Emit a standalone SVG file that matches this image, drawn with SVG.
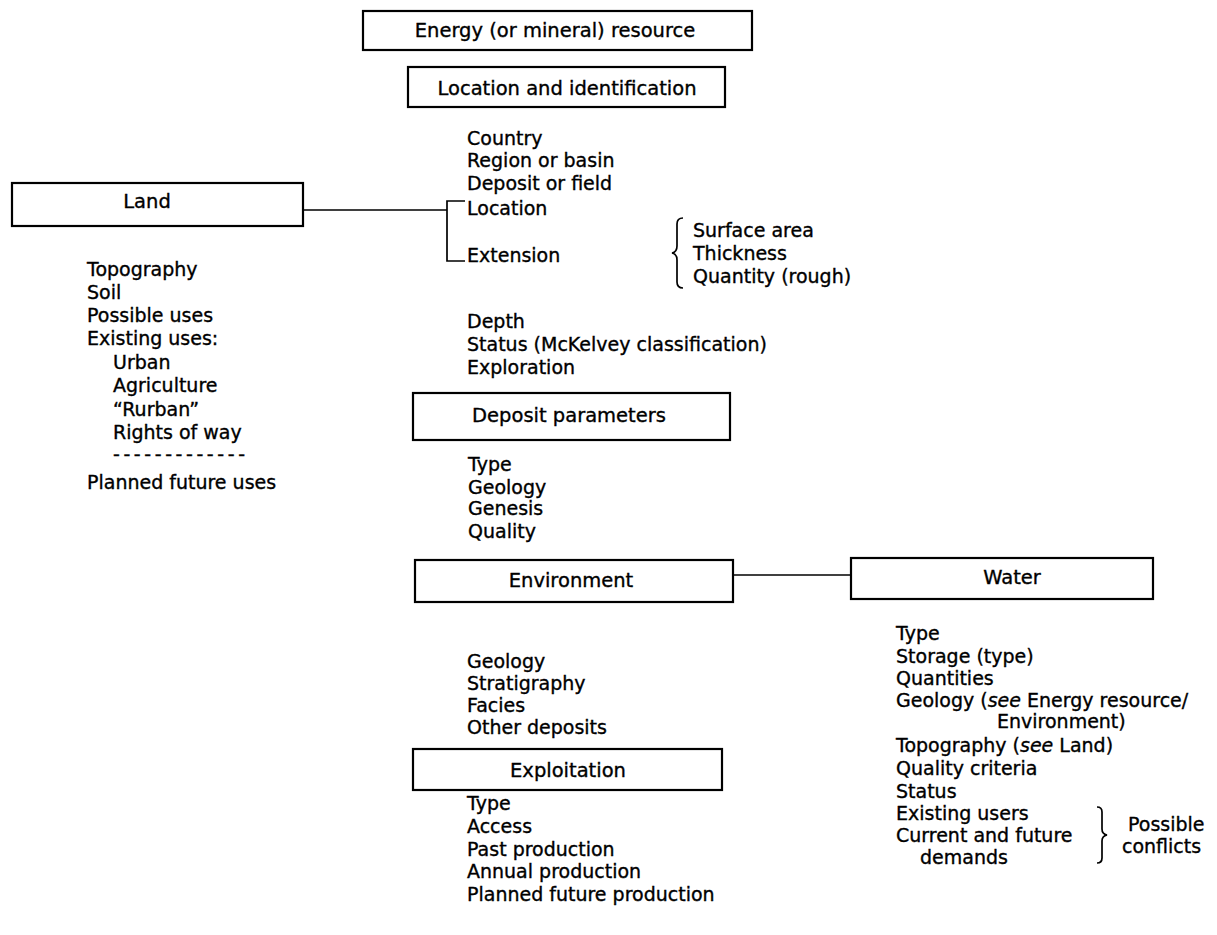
<svg xmlns="http://www.w3.org/2000/svg" width="1217" height="935" viewBox="0 0 1217 935">
<style>
.box{fill:#fff;stroke:#000;stroke-width:2.2}
.t{font-family:"DejaVu Sans","Liberation Sans",sans-serif;font-size:19px;fill:#000;stroke:#000;stroke-width:0.35}
.bt{font-family:"DejaVu Sans","Liberation Sans",sans-serif;font-size:19.5px;fill:#000;stroke:#000;stroke-width:0.35;text-anchor:middle}
.ln{fill:none;stroke:#000;stroke-width:1.7}
</style>
<rect width="1217" height="935" fill="#fff"/>
<g id="connectors">
<path class="ln" d="M303,210 H447 M465,201 H447 V261 H465"/>
<path class="ln" d="M733,575 H851"/>
</g>
<g id="energy"><rect class="box" x="363" y="11" width="389" height="39"/><text class="bt" x="555" y="37">Energy (or mineral) resource</text></g>
<g id="location"><rect class="box" x="408" y="67" width="317" height="40"/><text class="bt" x="567" y="95">Location and identification</text></g>
<g id="location-list">
<text class="t" x="467" y="145">Country</text>
<text class="t" x="467" y="167">Region or basin</text>
<text class="t" x="467" y="190">Deposit or field</text>
<text class="t" x="467" y="215">Location</text>
<text class="t" x="467" y="262">Extension</text>
<text class="t" x="467" y="328">Depth</text>
<text class="t" x="467" y="351">Status (McKelvey classification)</text>
<text class="t" x="467" y="374">Exploration</text>
</g>
<g id="extension-brace">
<path class="ln" d="M683,218 q-6,0 -6,6 v22 q0,6 -5,7 q5,1 5,7 v22 q0,6 6,6"/>
<text class="t" x="693" y="237">Surface area</text>
<text class="t" x="693" y="260">Thickness</text>
<text class="t" x="693" y="283">Quantity (rough)</text>
</g>
<g id="land"><rect class="box" x="12" y="183" width="291" height="43"/><text class="bt" x="147" y="208">Land</text></g>
<g id="land-list">
<text class="t" x="87" y="276">Topography</text>
<text class="t" x="87" y="299">Soil</text>
<text class="t" x="87" y="322">Possible uses</text>
<text class="t" x="87" y="345">Existing uses:</text>
<text class="t" x="113" y="369">Urban</text>
<text class="t" x="113" y="392">Agriculture</text>
<text class="t" x="113" y="416">“Rurban”</text>
<text class="t" x="113" y="439">Rights of way</text>
<text class="t" x="113" y="461" textLength="132" lengthAdjust="spacing">- - - - - - - - - - - - -</text>
<text class="t" x="87" y="489">Planned future uses</text>
</g>
<g id="deposit"><rect class="box" x="413" y="393" width="317" height="47"/><text class="bt" x="569" y="422">Deposit parameters</text></g>
<g id="deposit-list">
<text class="t" x="468" y="471">Type</text>
<text class="t" x="468" y="494">Geology</text>
<text class="t" x="468" y="515">Genesis</text>
<text class="t" x="468" y="538">Quality</text>
</g>
<g id="environment"><rect class="box" x="415" y="560" width="318" height="42"/><text class="bt" x="571" y="587">Environment</text></g>
<g id="environment-list">
<text class="t" x="467" y="668">Geology</text>
<text class="t" x="467" y="690">Stratigraphy</text>
<text class="t" x="467" y="712">Facies</text>
<text class="t" x="467" y="734">Other deposits</text>
</g>
<g id="water"><rect class="box" x="851" y="558" width="302" height="41"/><text class="bt" x="1012" y="584">Water</text></g>
<g id="water-list">
<text class="t" x="896" y="640">Type</text>
<text class="t" x="896" y="663">Storage (type)</text>
<text class="t" x="896" y="685">Quantities</text>
<text class="t" x="896" y="707">Geology (<tspan font-style="italic">see</tspan> Energy resource/</text>
<text class="t" x="997" y="728">Environment)</text>
<text class="t" x="896" y="752">Topography (<tspan font-style="italic">see</tspan> Land)</text>
<text class="t" x="896" y="775">Quality criteria</text>
<text class="t" x="896" y="798">Status</text>
<text class="t" x="896" y="820">Existing users</text>
<text class="t" x="896" y="842">Current and future</text>
<text class="t" x="920" y="864">demands</text>
</g>
<g id="conflicts-brace">
<path class="ln" d="M1097,807 q5,0 5,5 v17 q0,5 5,6 q-5,1 -5,6 v17 q0,5 -5,5"/>
<text class="t" x="1128" y="831">Possible</text>
<text class="t" x="1122" y="853">conflicts</text>
</g>
<g id="exploitation"><rect class="box" x="413" y="749" width="309" height="41"/><text class="bt" x="568" y="777">Exploitation</text></g>
<g id="exploitation-list">
<text class="t" x="467" y="810">Type</text>
<text class="t" x="467" y="833">Access</text>
<text class="t" x="467" y="856">Past production</text>
<text class="t" x="467" y="878">Annual production</text>
<text class="t" x="467" y="901">Planned future production</text>
</g>
</svg>
